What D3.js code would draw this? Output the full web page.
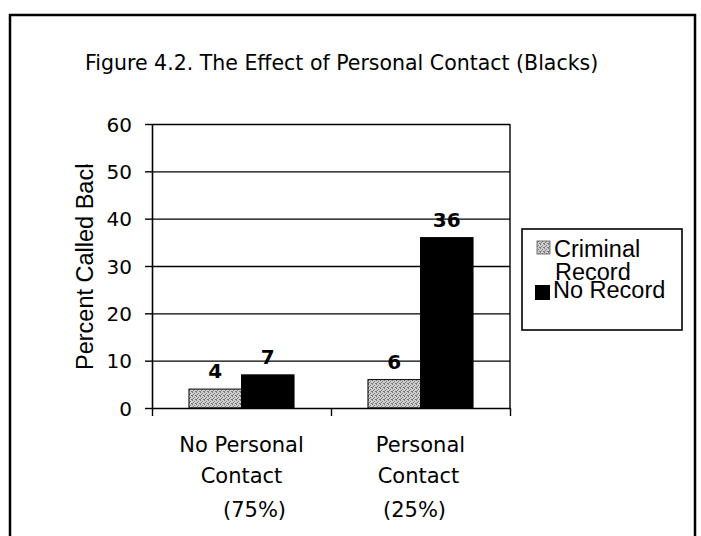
<!DOCTYPE html>
<html><head><meta charset="utf-8">
<script src="https://cdn.jsdelivr.net/npm/d3@7"></script>
<style>html,body{margin:0;padding:0;background:#fff}svg{display:block}</style>
</head><body><svg id="c" width="701" height="536"></svg>
<script>
// ---- data ----
const categories = ["No Personal Contact", "Personal Contact"];
const categoryLines = [["No Personal", "Contact", "(75%)"], ["Personal", "Contact", "(25%)"]];
const seriesNames = ["Criminal Record", "No Record"];
const criminalRecord = [4, 6];
const noRecord = [7, 36];
const yTicks = [0, 10, 20, 30, 40, 50, 60];
const titleText = "Figure 4.2. The Effect of Personal Contact (Blacks)";
const yTitleText = "Percent Called Back";

// ---- layout ----
const svg = d3.select("#c");
const pL = 152, pR = 510, pT = 124, pB = 408;
const y = d3.scaleLinear().domain([0, 60]).range([pB, pT]);
const x0 = d3.scaleBand().domain(categories).range([pL, pR]).paddingInner(0.413).paddingOuter(0.2065);
const x1 = d3.scaleBand().domain(seriesNames).range([0, x0.bandwidth()]);
const xb = d3.scaleLinear().domain([0, categories.length]).range([pL, pR]);

const defs = svg.append("defs");
const pat = defs.append("pattern").attr("id", "dots").attr("width", 4).attr("height", 4).attr("patternUnits", "userSpaceOnUse");
pat.append("rect").attr("width", 4).attr("height", 4).attr("fill", "#cfcfcf");
[[0,0],[2,1],[1,2],[3,3],[0,3]].forEach(([a,b]) => pat.append("rect").attr("x", a).attr("y", b).attr("width", 1).attr("height", 1).attr("fill", "#7a7a7a"));
defs.append("clipPath").attr("id", "ytclip").append("rect").attr("x", 0).attr("y", 164.5).attr("width", 140).attr("height", 300);

// outer frame
svg.append("path").attr("d", "M10,536V15H695V536").attr("fill", "none").attr("stroke", "#000").attr("stroke-width", 2.5);

// title
svg.append("text").attr("x", 85).attr("y", 70).attr("font-family", "DejaVu Sans").attr("font-size", 20.5).attr("fill", "#000").text(titleText);

// gridlines
svg.append("g").attr("transform", `translate(${pL},0)`)
  .call(d3.axisLeft(y).tickValues(yTicks.filter(t => t > 0)).tickSize(-(pR - pL)).tickFormat(""))
  .call(g => g.select(".domain").remove())
  .call(g => g.selectAll("line").attr("stroke", "#000").attr("stroke-width", 1.4));

// right border of plot
svg.append("line").attr("x1", pR).attr("x2", pR).attr("y1", pT).attr("y2", pB).attr("stroke", "#000").attr("stroke-width", 1.4);

// y axis
svg.append("g").attr("transform", `translate(${pL},0)`)
  .call(d3.axisLeft(y).tickValues(yTicks).tickSize(7).tickPadding(13).tickSizeOuter(0))
  .call(g => g.select(".domain").attr("stroke", "#000").attr("stroke-width", 1.6))
  .call(g => g.selectAll("line").attr("stroke", "#000").attr("stroke-width", 1.4))
  .call(g => g.selectAll("text").attr("font-family", "DejaVu Sans").attr("font-size", 20).attr("fill", "#000").attr("dy", "0.35em"));

// bars
const series = [criminalRecord, noRecord];
const fills = ["url(#dots)", "#000"];
series.forEach((vals, si) => {
  svg.append("g").selectAll("rect").data(vals).join("rect")
    .attr("x", (d, i) => x0(categories[i]) + x1(seriesNames[si]))
    .attr("y", d => y(d))
    .attr("width", x1.bandwidth())
    .attr("height", d => y(0) - y(d))
    .attr("fill", fills[si])
    .attr("stroke", "#000").attr("stroke-width", 1);
  svg.append("g").selectAll("text").data(vals).join("text")
    .attr("x", (d, i) => x0(categories[i]) + x1(seriesNames[si]) + x1.bandwidth() / 2)
    .attr("y", d => y(d) - 11)
    .attr("text-anchor", "middle")
    .attr("font-family", "DejaVu Sans").attr("font-weight", "bold").attr("font-size", 20).attr("fill", "#000")
    .text(d => d);
});

// x axis
svg.append("g").attr("transform", `translate(0,${pB})`)
  .call(d3.axisBottom(xb).tickValues(d3.range(categories.length + 1)).tickSize(8).tickFormat("").tickSizeOuter(0))
  .call(g => g.select(".domain").attr("stroke", "#000").attr("stroke-width", 1.6))
  .call(g => g.selectAll("line").attr("stroke", "#000").attr("stroke-width", 1.4));

// category labels
const lineY = [452, 483, 517];
const lineShift = [[0, 0, 13], [0, -2, -6]];
categories.forEach((c, i) => {
  const cx = x0(c) + x0.bandwidth() / 2;
  categoryLines[i].forEach((t, li) => {
    svg.append("text").attr("x", cx + lineShift[i][li]).attr("y", lineY[li])
      .attr("text-anchor", "middle").attr("font-family", "DejaVu Sans").attr("font-size", 21).attr("fill", "#000").text(t);
  });
});

// y title
svg.append("g").attr("clip-path", "url(#ytclip)")
  .append("text").attr("transform", "translate(93,370) rotate(-90)")
  .attr("font-family", "Liberation Sans").attr("font-size", 23.5).attr("fill", "#000").text(yTitleText);

// legend
const lg = svg.append("g");
lg.append("rect").attr("x", 522).attr("y", 229).attr("width", 160).attr("height", 101).attr("fill", "#fff").attr("stroke", "#000").attr("stroke-width", 1.6);
lg.append("rect").attr("x", 537).attr("y", 241).attr("width", 13).attr("height", 13).attr("fill", fills[0]).attr("stroke", "#555").attr("stroke-width", 0.8);
lg.append("rect").attr("x", 535).attr("y", 285).attr("width", 15).attr("height", 15).attr("fill", fills[1]);
const crWords = seriesNames[0].split(" ");
const legendLines = [[crWords[0], 554, 257], [crWords[1], 555, 280], [seriesNames[1], 553, 298]];
lg.append("text").attr("font-family", "Liberation Sans").attr("font-size", 23.5).attr("fill", "#000")
  .selectAll("tspan").data(legendLines).join("tspan")
  .attr("x", d => d[1]).attr("y", d => d[2]).text(d => d[0]);
</script></body></html>
